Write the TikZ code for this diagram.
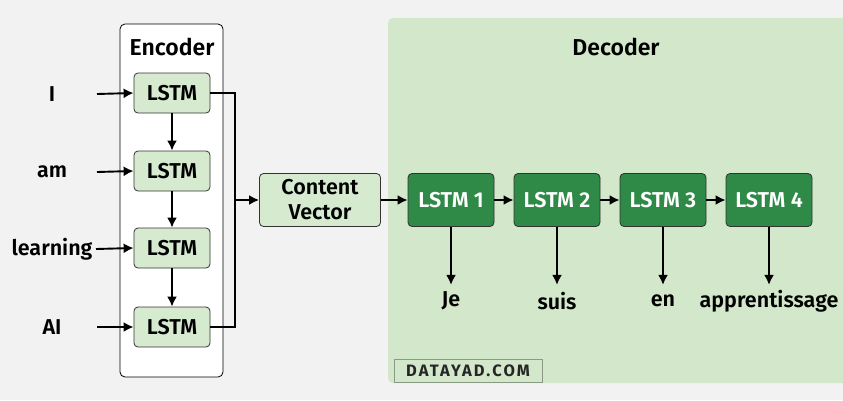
\documentclass[tikz,border=0pt]{standalone}
\usepackage{fontspec}
\usetikzlibrary{arrows.meta}
\setmainfont{Fira Sans}[BoldFont={Fira Sans SemiBold}]
\newfontfamily\markfont{Fira Sans}
\definecolor{bggray}{HTML}{F2F2F2}
\definecolor{declight}{HTML}{D3E8CA}
\definecolor{enclstm}{HTML}{D6EAD0}
\definecolor{decdark}{HTML}{2E8A46}
\definecolor{wmgray}{HTML}{8A9A85}
\begin{document}
\begin{tikzpicture}[x=1pt,y=-1pt,font=\bfseries\fontsize{21.5}{24}\selectfont]
\tikzstyle{arrow}=[draw,-{Latex[length=10pt,width=10pt]},line width=1.9pt]
\tikzstyle{line}=[draw,line width=1.9pt]
\tikzstyle{enc}=[draw=black!80,fill=enclstm,rounded corners=4pt,minimum width=76pt,minimum height=40pt,inner sep=0pt,line width=0.8pt]
\tikzstyle{dec}=[draw=black!80,fill=decdark,text=white,rounded corners=4pt,minimum width=86pt,minimum height=53pt,inner sep=0pt,line width=0.8pt]
\path[fill=bggray](0,0)rectangle(843,400);
\useasboundingbox(0,0)rectangle(843,400);
% encoder side
\path[draw,fill=white,rounded corners=5pt,line width=0.8pt](120,24)rectangle(223,377);
\node(enctitle) at (172,47){\fontsize{23}{26}\selectfont Encoder};
\node[enc](e1) at (172,93){LSTM};
\node[enc](e2) at (172,171){LSTM};
\node[enc](e3) at (172,248){LSTM};
\node[enc](e4) at (172,327){LSTM};
\node(w1) at (52,94){I};
\node(w2) at (52,172){am};
\node(w3) at (52,249){learning};
\node(w4) at (52,327){AI};
\path[arrow](97,94)--(e1.west);
\path[arrow](97,172)--(e2.west);
\path[arrow](96,249)--(e3.west);
\path[arrow](97,327)--(e4.west);
\path[arrow](e1)--(e2);
\path[arrow](e2)--(e3);
\path[arrow](e3)--(e4);
% context
\node[enc,minimum width=121pt,minimum height=53pt,align=center,font=\bfseries\fontsize{21.5}{25}\selectfont](cv) at (320,200){Content\\Vector};
\coordinate(join) at (235,200);
\path[line](e1.east)-|(join);
\path[line](e4.east)-|(join);
\path[arrow](join)--(cv.west);
% decoder side
\path[fill=declight,rounded corners=5pt](388,18)rectangle(860,383);
\node(dectitle) at (616,47){\fontsize{23}{26}\selectfont Decoder};
\node[dec](d1) at (451,200){LSTM 1};
\node[dec](d2) at (557,200){LSTM 2};
\node[dec](d3) at (663,200){LSTM 3};
\node[dec](d4) at (769,200){LSTM 4};
\path[arrow](cv.east)--(d1.west);
\path[arrow](d1)--(d2);
\path[arrow](d2)--(d3);
\path[arrow](d3)--(d4);
\node(o1) at (451,301){Je};
\node(o2) at (557,301){suis};
\node(o3) at (663,301){en};
\node(o4) at (769,301){apprentissage};
\foreach \i in {1,...,4}{\path[arrow](d\i.south)--++(0,58);}
% watermark
\node[draw=wmgray,line width=0.8pt,inner sep=2pt,minimum width=148pt,minimum height=23pt,font=\markfont\fontsize{16.5}{18}\selectfont\bfseries\addfontfeatures{LetterSpace=13},text=black!85](mark) at (468,370.5){DATAYAD.COM};
\end{tikzpicture}
\end{document}
